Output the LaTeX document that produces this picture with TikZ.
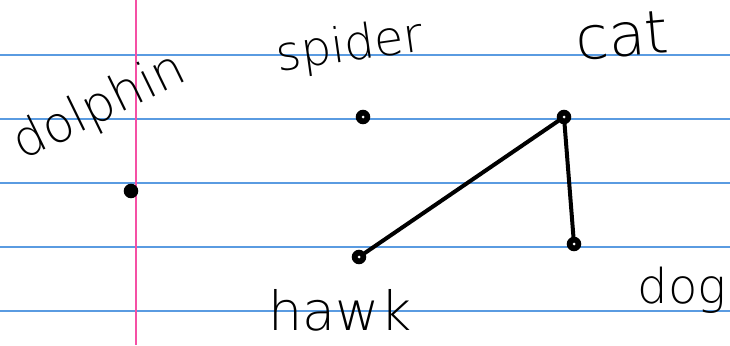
\documentclass[tikz,border=0pt]{standalone}
\usepackage{fontspec}
\setsansfont{DejaVu Sans ExtraLight}
\begin{document}
\begin{tikzpicture}[x=1pt,y=-1pt,
  ruled/.style={draw=rulecol,line width=1.2pt},
  margin/.style={draw=margincol,line width=1.5pt},
  vertex/.style={circle,draw=black,fill=black,line width=1.5pt,inner sep=0pt,minimum size=13pt},
  hole/.style={circle,fill=white,inner sep=0pt,minimum size=3pt},
  edge/.style={draw=black,line width=4pt,line cap=round},
  hand/.style={font=\sffamily\fontsize{48}{48}\selectfont,inner sep=0pt}]
\definecolor{rulecol}{RGB}{90,155,225}
\definecolor{margincol}{RGB}{245,80,165}
\useasboundingbox (0,0) rectangle (730,345);
\fill[white] (0,0) rectangle (730,345);
% ruled lines
\foreach \yy in {55,119,183,247,311} {\draw[ruled] (0,\yy) -- (730,\yy);}
\draw[margin] (136,0) -- (136,345);
% vertices
\node[vertex] (dolphin) at (131,191) {};
\node[vertex] (spider) at (363,117) {};
\node[vertex] (cat) at (564,117) {};
\node[vertex] (hawk) at (359,257) {};
\node[vertex] (dog) at (574,244) {};
% edges
\draw[edge] (hawk) -- (cat);
\draw[edge] (cat) -- (dog);
\foreach \v in {spider,cat,hawk,dog} {\node[hole] at (\v) {};}
% labels
\node[hand,rotate=26,font=\sffamily\fontsize{50}{50}\selectfont] (ldolphin) at (100,108) {dolphin};
\node[hand,rotate=8] (lspider) at (350,48) {spider};
\node[hand,rotate=5,font=\sffamily\fontsize{60}{60}\selectfont] (lcat) at (622,36) {cat};
\node[hand,font=\sffamily\fontsize{54}{54}\selectfont] (lhawk) at (340,310) {hawk};
\node[hand] (ldog) at (682,290) {dog};
\end{tikzpicture}
\end{document}
